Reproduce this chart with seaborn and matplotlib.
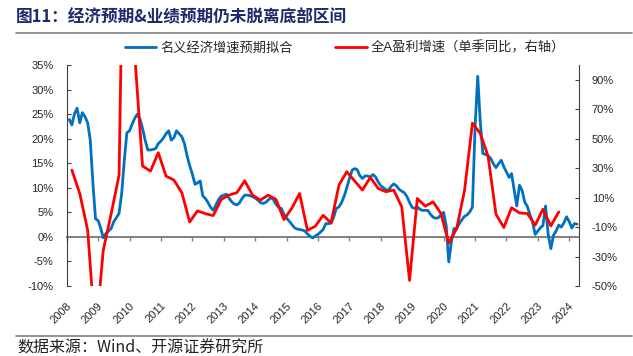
import matplotlib
matplotlib.use("Agg")
import matplotlib.pyplot as plt
from matplotlib.lines import Line2D
from matplotlib.ticker import FuncFormatter
from matplotlib.transforms import ScaledTranslation
import pandas as pd
import seaborn as sns

# ---------------- data ----------------
title = "图11：经济预期&业绩预期仍未脱离底部区间"
source = "数据来源：Wind、开源证券研究所"
blue_label = "名义经济增速预期拟合"
red_label = "全A盈利增速（单季同比，右轴）"

blue_start = "2008-02-01"   # monthly
red_start = "2008-03-01"    # quarterly

blue_values = [
    23.9, 22.8, 25.1, 26.2, 23.2, 25.3, 24.5, 23.2, 19.7, 10.9, 3.7, 3.3,
    1.7, -0.2, 0.7, 1.2, 1.7, 3.1, 3.9, 4.8, 8.8, 15.6, 21.2, 21.6,
    23.0, 24.1, 25.0, 24.1, 22.1, 19.7, 17.7, 17.7, 17.8, 18.0, 19.0, 19.5,
    20.2, 21.0, 21.6, 19.7, 20.2, 21.6, 21.0, 20.4, 19.0, 16.5, 14.5, 12.8,
    10.7, 11.0, 11.4, 8.4, 7.8, 7.0, 6.0, 5.4, 6.5, 7.6, 8.3, 8.5,
    8.7, 7.9, 7.2, 6.7, 6.5, 6.9, 7.8, 8.5, 8.5, 8.4, 8.2, 7.9,
    7.5, 7.0, 6.8, 7.0, 7.5, 8.0, 7.6, 6.6, 6.0, 5.8, 4.6, 3.8,
    3.2, 2.6, 1.9, 1.6, 1.5, 1.4, 1.2, 0.6, 0.1, -0.2, 0.2, 0.5,
    1.0, 1.5, 2.7, 2.7, 2.8, 4.0, 5.8, 6.1, 7.0, 8.3, 10.0, 11.9,
    13.6, 13.9, 13.7, 12.5, 11.9, 12.4, 12.4, 12.2, 12.7, 12.2, 11.2, 10.4,
    10.0, 9.6, 9.5, 10.3, 10.8, 10.4, 9.7, 9.3, 9.0, 8.2, 7.0, 6.0,
    5.8, 6.1, 5.6, 5.4, 5.4, 5.4, 4.6, 4.0, 3.8, 3.9, 4.5, 5.0,
    2.2, -5.1, -1.0, 1.7, 1.7, 2.7, 3.5, 4.2, 4.5, 5.1, 6.1, 22.4,
    32.7, 23.8, 17.0, 16.8, 16.5, 16.0, 14.9, 14.1, 14.9, 15.6, 14.3, 13.2,
    12.1, 12.9, 9.5, 6.3, 10.5, 9.5, 7.1, 6.2, 4.5, 3.0, 0.5, 1.2,
    1.9, 2.3, 6.3, 0.5, -2.4, 0.3, 1.2, 2.4, 2.0, 2.9, 4.1, 3.1,
    1.8, 2.7, 2.6,
]

red_values = [
    28.7, 12.8, -12.2, -85.0,
    -25.8, -1.0, 25.3, 350.0,
    108.0, 31.4, 28.0, 40.5,
    24.6, 21.9, 13.3, -6.5,
    1.0, -0.9, -2.2, 8.7,
    11.7, 13.3, 21.4, 11.7,
    8.3, 11.7, 8.7, -4.9,
    2.6, 12.8, -12.2, -9.4,
    -2.0, -7.2, 18.5, 27.6,
    21.4, 15.1, 23.7, 16.2,
    14.0, 15.1, 3.7, -46.2,
    9.4, 4.2, 7.1, -0.8,
    -20.8, -11.0, 15.1, 60.5,
    53.7, 38.2, -1.3, -10.3,
    3.1, -0.4, -0.8, -8.7,
    2.1, -9.2, 0.3,
]

left_ticks = [-10, -5, 0, 5, 10, 15, 20, 25, 30, 35]
right_ticks = [-50, -30, -10, 10, 30, 50, 70, 90]
year_labels = [str(y) for y in range(2008, 2025)]

# ---------------- style ----------------
sns.set_theme(style="white")
plt.rcParams["font.family"] = ["Liberation Sans", "Noto Sans CJK SC", "DejaVu Sans"]

BLUE = "#0070C0"
RED = "#FF0000"
GRAY = "#808080"
TXT = "#262626"

W, H = 633, 356
fig = plt.figure(figsize=(W / 100, H / 100), dpi=100)
fig.patch.set_facecolor("white")

L, R, T, B = 66.7, 578.7, 65, 286
ax = fig.add_axes([L / W, 1 - B / H, (R - L) / W, (B - T) / H])

blue_df = pd.DataFrame({
    "date": pd.date_range(blue_start, periods=len(blue_values), freq="MS"),
    "value": blue_values,
})
red_df = pd.DataFrame({
    "date": pd.date_range(red_start, periods=len(red_values), freq="3MS"),
    "value": red_values,
})

sns.lineplot(data=blue_df, x="date", y="value", ax=ax, color=BLUE,
             linewidth=2.0, zorder=3)
ax.set_ylim(left_ticks[0], left_ticks[-1])
ax.set_yticks(left_ticks)
ax.yaxis.set_major_formatter(FuncFormatter(lambda v, p: f"{v:.0f}%"))

year_dates = pd.to_datetime([f"{y}-01-01" for y in year_labels])
ax.set_xlim(pd.Timestamp("2008-01-01"), pd.Timestamp("2024-04-20"))
ax.set_xticks(year_dates)
ax.set_xticklabels(year_labels)

ax2 = ax.twinx()
sns.lineplot(data=red_df, x="date", y="value", ax=ax2, color=RED,
             linewidth=2.0, zorder=3)
ax2.set_ylim(-50, 100)
ax2.set_yticks(right_ticks)
ax2.yaxis.set_major_formatter(FuncFormatter(lambda v, p: f"{v:.0f}%"))

for a in (ax, ax2):
    a.set_xlabel("")
    a.set_ylabel("")
    a.grid(False)
    a.patch.set_visible(False)

# spines
ax.spines["top"].set_visible(False)
ax.spines["right"].set_visible(False)
ax.spines["left"].set_color("#404040")
ax.spines["left"].set_linewidth(0.8)
ax.spines["bottom"].set_position(("data", 0))
ax.spines["bottom"].set_color(GRAY)
ax.spines["bottom"].set_linewidth(1.4)
ax.spines["bottom"].set_zorder(2)

ax2.spines["top"].set_visible(False)
ax2.spines["left"].set_visible(False)
ax2.spines["bottom"].set_visible(False)
ax2.spines["right"].set_color("#404040")
ax2.spines["right"].set_linewidth(0.8)

ax.tick_params(axis="y", direction="in", length=3, width=0.8, color="#404040",
               pad=9.5, labelsize=8, labelcolor=TXT, left=True)
ax2.tick_params(axis="y", direction="in", length=3, width=0.8, color="#404040",
                pad=9.5, labelsize=8, labelcolor=TXT, right=True)
ax.tick_params(axis="x", direction="out", length=3, width=1.0, color=GRAY,
               bottom=True, labelbottom=False)

# x tick labels drawn from twin axis at the bottom of the plot area
ax2.xaxis.set_visible(True)
ax2.xaxis.set_ticks_position("bottom")
ax2.tick_params(axis="x", length=0, labelbottom=True, labeltop=False,
                labelsize=8, labelcolor=TXT, pad=13, labelrotation=45)
offset = ScaledTranslation(3 / 100, 0, fig.dpi_scale_trans)
for lab in ax2.get_xticklabels():
    lab.set_ha("right")
    lab.set_va("center")
    lab.set_rotation_mode("anchor")
    lab.set_transform(lab.get_transform() + offset)

# title & rules
fig.text(16 / W, 1 - 17 / H, title, fontsize=12, fontweight="bold",
         color="#1F2A6B", va="center", ha="left",
         family=["Noto Sans CJK SC", "DejaVu Sans"])
fig.add_artist(Line2D([16 / W, 632 / W], [1 - 33 / H] * 2, color="#7F7F7F",
                      lw=1.2, transform=fig.transFigure))
fig.add_artist(Line2D([16 / W, 632 / W], [1 - 336 / H] * 2, color="#7F7F7F",
                      lw=1.2, transform=fig.transFigure))
fig.text(17 / W, 1 - 348 / H, source, fontsize=11.5, color="#222222",
         va="center", ha="left", family=["Noto Sans CJK SC", "DejaVu Sans"])

# legend
handles = [ax.lines[0], ax2.lines[0]]
fig.legend(handles, [blue_label, red_label], loc="center",
           bbox_to_anchor=(345 / W, 1 - 48 / H), ncol=2, frameon=False,
           handlelength=2.4, handletextpad=0.3, columnspacing=3.2,
           prop={"family": ["Liberation Sans", "Noto Sans CJK SC"], "size": 9.5})

fig.savefig("out.png", dpi=100, facecolor="white")
